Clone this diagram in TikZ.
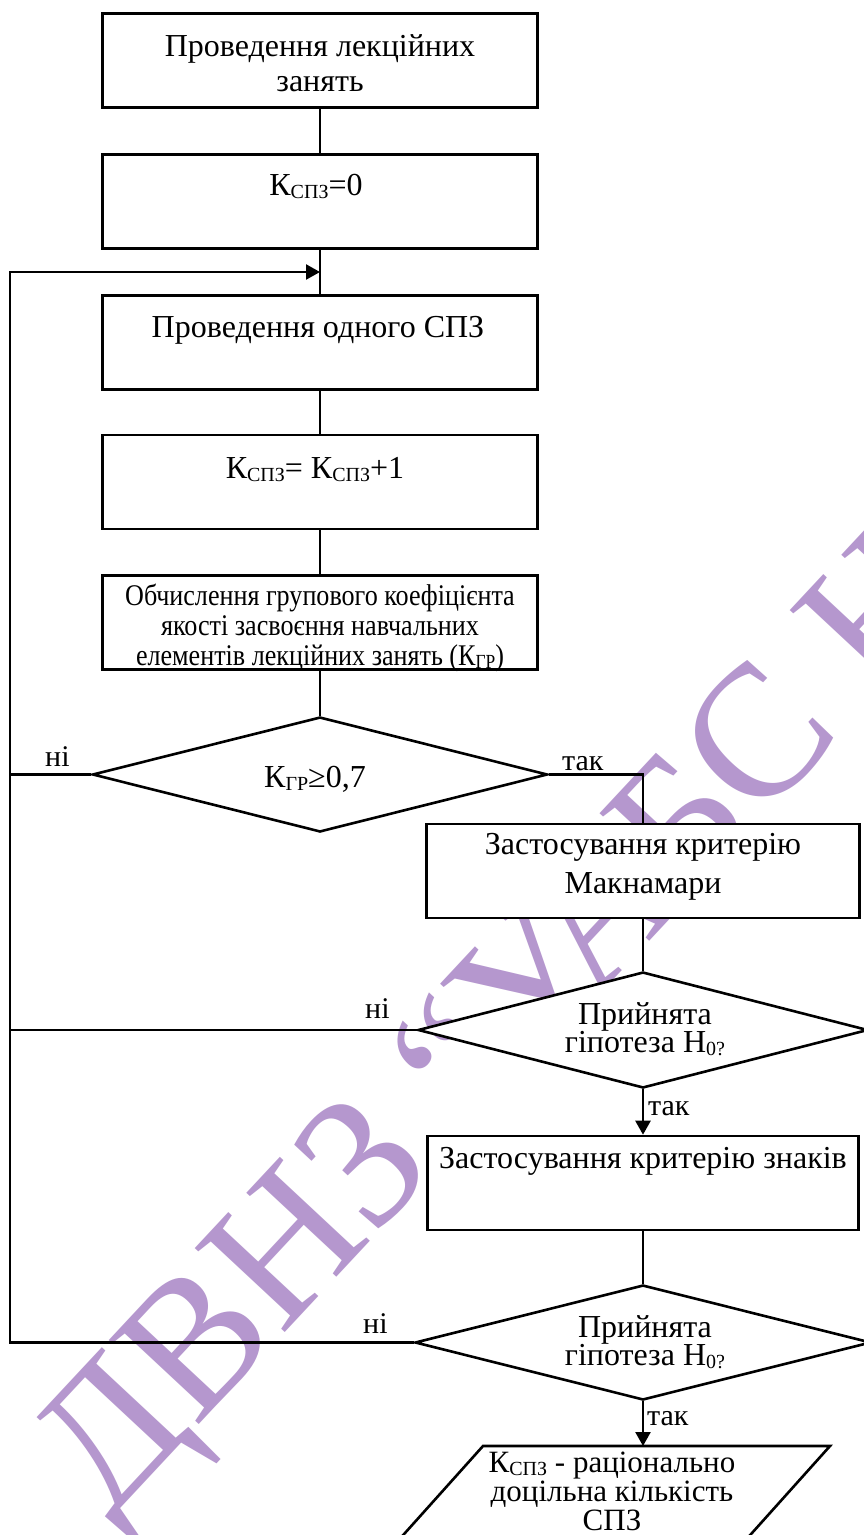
\documentclass[tikz,border=0pt]{standalone}
\usepackage{fontspec}
\setmainfont{Liberation Serif}
\newfontfamily\narrowface[FakeStretch=0.87]{Liberation Serif}
\usetikzlibrary{arrows.meta,shapes.geometric}
\definecolor{stamp}{RGB}{181,151,206}
% lowered small subscript for indices such as СПЗ, ГР, 0?
\newcommand{\sbs}[1]{\raisebox{-0.1em}{\fontsize{20}{20}\selectfont #1}}

\begin{document}
\begin{tikzpicture}[x=1pt,y=-1pt,
  box/.style={draw, line width=2.6pt, fill=white, minimum width=435pt, minimum height=94pt, inner sep=0pt},
  dia/.style={draw, line width=2.6pt, fill=white, diamond, inner sep=0pt},
  txt/.style={font=\fontsize{32}{35}\selectfont, align=center, inner sep=0pt, anchor=base},
  lbl/.style={font=\fontsize{30}{30}\selectfont, inner sep=0pt, anchor=base west},
  flow/.style={line width=2.4pt},
  arr/.style={line width=2.4pt, -{Triangle[length=14pt,width=15pt]}}]
\useasboundingbox (0,0) rectangle (864,1535);
\clip (0,0) rectangle (864,1535);
\fill[white] (0,0) rectangle (864,1535);

% watermark
\node[text=stamp, font=\fontsize{188}{188}\selectfont, rotate=47, anchor=base west, inner sep=0pt] (mark) at (108,1522) {ДВНЗ “УАБС НБУ”};

% process blocks
\node[box] (b1) at (320,60.5) {};
\node[box] (b2) at (320,201.5) {};
\node[box] (b3) at (320,342.5) {};
\node[box] (b4) at (320,482) {};
\node[box] (b5) at (320,622.5) {};
\node[dia, minimum width=455pt, minimum height=115pt] (d1) at (320,774.5) {};
\node[box, minimum width=433pt] (b6) at (643,871) {};
\node[dia, minimum width=450pt, minimum height=116pt] (d2) at (643,1030) {};
\node[box, minimum width=431pt] (b7) at (643,1183) {};
\node[dia, minimum width=456pt, minimum height=115pt] (d3) at (643,1342.5) {};
\draw[line width=2.6pt, fill=white] (483,1446) -- (830,1446) -- (726,1562) -- (379,1562) -- cycle;
\coordinate (outtop) at (643,1446);

% connectors
\coordinate (join) at (320,272);
\coordinate (rail) at (10,272);
\draw[flow] (b1.south) -- (b2.north);
\draw[flow] (b2.south) -- (b3.north);
\draw[arr] (d3.west) -| (rail) -- (join);
\draw[flow] (d1.west) -- (d1.west -| rail);
\draw[flow] (d2.west) -- (d2.west -| rail);
\draw[flow] (b3.south) -- (b4.north);
\draw[flow] (b4.south) -- (b5.north);
\draw[flow] (b5.south) -- (d1.north);
\draw[flow] (d1.east) -| (b6.north);
\draw[flow] (b6.south) -- (d2.north);
\draw[arr] (d2.south) -- (b7.north);
\draw[flow] (b7.south) -- (d3.north);
\draw[arr] (d3.south) -- (outtop);

% texts (multi-line nodes are placed by the baseline of their last line)
\node[txt] at (320,91) {Проведення лекційних\\занять};
\node[txt] at (316,195) {К\sbs{СПЗ}=0};
\node[txt] at (318,337) {Проведення одного СПЗ};
\node[txt] at (315,478) {К\sbs{СПЗ}= К\sbs{СПЗ}+1};
\node[txt, font=\narrowface\fontsize{30}{30}\selectfont] at (320,665) {Обчислення групового коефіцієнта\\якості засвоєння навчальних\\елементів лекційних занять (К\sbs{ГР})};
\node[txt] at (315,787) {К\sbs{ГР}≥0,7};
\node[txt, font=\fontsize{32}{39}\selectfont] at (643,893) {Застосування критерію\\Макнамари};
\node[txt, font=\fontsize{32}{28}\selectfont] at (645,1052) {Прийнята\\гіпотеза H\sbs{0?}};
\node[txt] at (643,1168) {Застосування критерію знаків};
\node[txt, font=\fontsize{32}{28}\selectfont] at (645,1365) {Прийнята\\гіпотеза H\sbs{0?}};
\node[txt, font=\fontsize{31}{29}\selectfont] at (612,1530) {К\sbs{СПЗ} - раціонально\\доцільна кількість\\СПЗ};

% branch labels
\node[lbl] at (45,766) {ні};
\node[lbl] at (562,770) {так};
\node[lbl] at (365,1018) {ні};
\node[lbl] at (648,1115) {так};
\node[lbl] at (363,1333) {ні};
\node[lbl] at (647,1425) {так};
\end{tikzpicture}
\end{document}
